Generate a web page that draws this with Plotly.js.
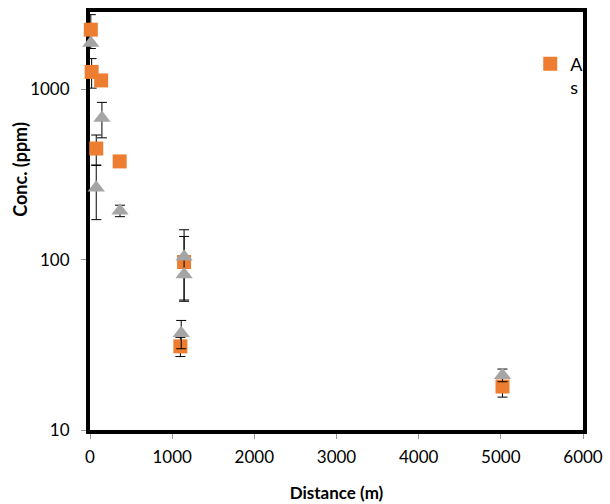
<!DOCTYPE html>
<html>
<head>
<meta charset="utf-8">
<script src="https://cdn.plot.ly/plotly-3.0.1.min.js"></script>
<style>
  html, body { margin: 0; padding: 0; background: #fff; }
  #chart { width: 610px; height: 504px; }
</style>
</head>
<body>
<div id="chart"></div>
<script>
// As series (orange squares)
var asDist = [10, 20, 136, 76, 361, 1145, 1100, 5020];
var asConc = [2245, 1268, 1130, 450, 378, 97, 31, 18];
var asErr  = [505, 250, 0, 90, 0, 40, 4, 2.4];

// second series (grey triangles), not in the legend
var triDist = [10, 145, 76, 365, 1145, 1145, 1110, 5020];
var triConc = [1875, 680, 265, 194, 104, 82, 37, 21];
var triErr  = [0, 160, 93, 15, 46, 0, 7, 1.8];

var xTicks = [0, 1000, 2000, 3000, 4000, 5000, 6000];
var yTicks = [10, 100, 1000];

var font = "Lato, 'Open Sans', sans-serif";

var asTrace = {
  x: asDist,
  y: asConc,
  name: "A<br>s",
  type: "scatter",
  mode: "markers",
  cliponaxis: false,
  marker: { symbol: "square", size: 14, color: "#ED7D31" },
  error_y: { type: "data", array: asErr, visible: true, color: "#000", thickness: 1, width: 5 }
};

var triTrace = {
  x: triDist,
  y: triConc,
  name: "triangles",
  showlegend: false,
  type: "scatter",
  mode: "markers",
  cliponaxis: false,
  marker: { symbol: "triangle-up", size: 15, color: "#A5A5A5" },
  error_y: { type: "data", array: triErr, visible: true, color: "#000", thickness: 1, width: 5 }
};

var data = [asTrace, triTrace];

var layout = {
  width: 610,
  height: 504,
  margin: { l: 90, r: 27, t: 12, b: 74 },
  paper_bgcolor: "#fff",
  plot_bgcolor: "#fff",
  font: { family: font, size: 17, color: "#000" },
  showlegend: true,
  legend: {
    x: 0.893, y: 0.92, xanchor: "left", yanchor: "top",
    valign: "top", bgcolor: "rgba(0,0,0,0)",
    font: { family: font, size: 18, color: "#000" }
  },
  xaxis: {
    range: [0, 6000],
    tickvals: xTicks,
    ticks: "outside", ticklen: 5, tickcolor: "#999", tickwidth: 1,
    ticklabelstandoff: 4,
    showgrid: false, zeroline: false,
    showline: true, linecolor: "#000", linewidth: 4, mirror: true,
    layer: "below traces",
    title: { text: "<b>Distance (m)</b>", font: { family: font, size: 17 }, standoff: 22 }
  },
  yaxis: {
    type: "log",
    range: [1, 3.455],
    tickvals: yTicks,
    ticktext: yTicks.map(String),
    ticks: "outside", ticklen: 5, tickcolor: "#999", tickwidth: 1,
    ticklabelstandoff: 8,
    showgrid: false, zeroline: false,
    showline: true, linecolor: "#000", linewidth: 4, mirror: true,
    layer: "below traces"
  },
  annotations: [{
    text: "<b>Conc. (ppm)</b>",
    textangle: -90,
    xref: "paper", yref: "paper",
    x: -0.142, y: 0.625,
    xanchor: "center", yanchor: "middle",
    showarrow: false,
    font: { family: font, size: 18, color: "#000" }
  }]
};

Plotly.newPlot("chart", data, layout, { displayModeBar: false, staticPlot: true });
</script>
</body>
</html>
